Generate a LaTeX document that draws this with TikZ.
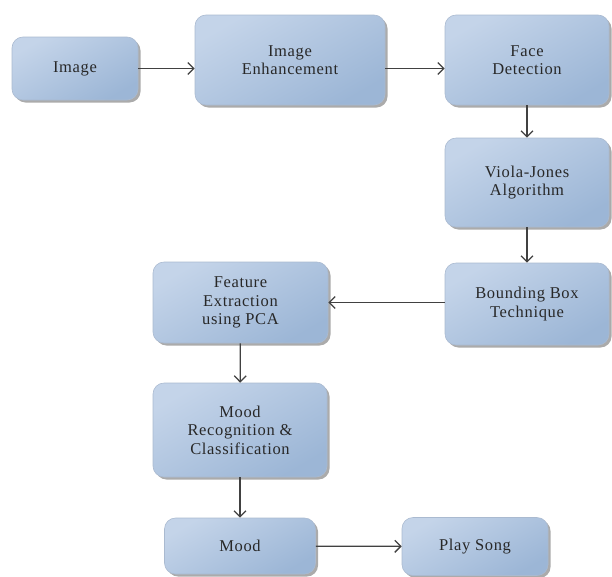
\documentclass[tikz,border=0pt]{standalone}
\usepackage{fontspec}
\setmainfont[LetterSpace=4]{Liberation Serif}
\usepackage{tikz}
\usetikzlibrary{arrows.meta,shadows}

\definecolor{boxtop}{RGB}{196,212,233}
\definecolor{boxmid}{RGB}{238,243,250}
\definecolor{boxbot}{RGB}{156,182,214}
\definecolor{boxline}{RGB}{170,186,208}
\definecolor{inkgray}{RGB}{40,40,40}
\definecolor{flowgray}{RGB}{65,65,65}

\begin{document}
\begin{tikzpicture}[x=1pt,y=-1pt,
    stage/.style={rounded corners=11pt, draw=boxline, line width=0.6pt,
      top color=boxtop, middle color=boxmid, bottom color=boxbot, shading angle=30,
      drop shadow={shadow xshift=2.5pt, shadow yshift=-2.5pt, fill=black!55, opacity=0.6},
      text=inkgray, align=center, inner sep=2pt,
      font=\fontsize{16.5}{18.5}\selectfont},
    flow/.style={-{Straight Barb[length=6pt,width=12pt]}, color=flowgray, line width=1.3pt}]
  \useasboundingbox (0,0) rectangle (612,576);

    \draw (75,68.5) node[stage, minimum width=126pt, minimum height=63pt] (image) {Image};
    \draw (290,60) node[stage, minimum width=190pt, minimum height=90pt] (enhance) {Image\\Enhancement};
    \draw (527,60) node[stage, minimum width=164pt, minimum height=90pt] (face) {Face\\Detection};
      \draw[flow] (image.east) -- (image.east -| enhance.west);
      \draw[flow] (enhance.east |- image) -- (face.west |- image);

    \draw (527,182.5) node[stage, minimum width=164pt, minimum height=89pt] (viola) {Viola-Jones\\Algorithm};
    \draw (527,304) node[stage, minimum width=164pt, minimum height=82pt] (bbox) {Bounding Box\\Technique};
      \draw[flow] (face) -- (viola);
      \draw[flow] (viola) -- (bbox);

    \draw (240.5,302.5) node[stage, minimum width=175pt, minimum height=81pt] (feature) {Feature\\Extraction\\using PCA};
    \draw (240,430) node[stage, minimum width=174pt, minimum height=94pt] (moodrec) {Mood\\Recognition \&\\Classification};
      \draw[flow] (bbox.west |- feature) -- (feature.east);
      \draw[flow] (feature) -- (moodrec);

    \draw (240,546) node[stage, minimum width=151pt, minimum height=56pt] (mood) {Mood};
    \draw (475,546.5) node[stage, minimum width=146pt, minimum height=58pt] (song) {Play Song};
      \draw[flow] (moodrec) -- (mood);
      \draw[flow] (mood) -- (song);

\end{tikzpicture}
\end{document}
